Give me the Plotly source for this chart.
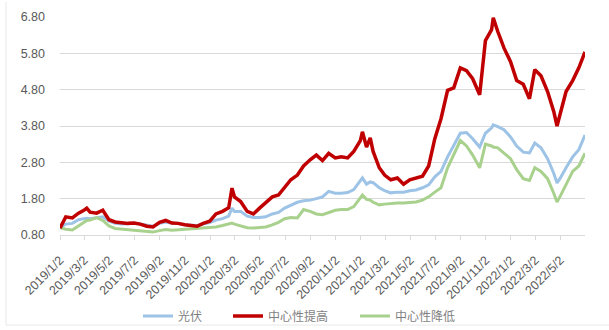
import plotly.graph_objects as go
from datetime import datetime

dates = [
    "2019-01-02", "2019-01-16", "2019-02-01", "2019-02-16", "2019-03-01", "2019-03-08", "2019-03-16",
    "2019-04-01", "2019-04-16", "2019-05-01", "2019-05-16", "2019-06-01", "2019-06-16",
    "2019-07-01", "2019-07-16", "2019-08-01", "2019-08-16", "2019-09-01", "2019-09-16",
    "2019-10-01", "2019-10-16", "2019-11-01", "2019-11-16", "2019-12-01", "2019-12-16",
    "2020-01-01", "2020-01-16", "2020-02-01", "2020-02-16", "2020-02-24", "2020-03-01", "2020-03-16",
    "2020-04-01", "2020-04-16", "2020-05-01", "2020-05-16", "2020-06-01", "2020-06-16",
    "2020-07-01", "2020-07-16", "2020-08-01", "2020-08-16", "2020-09-01", "2020-09-16",
    "2020-10-01", "2020-10-16", "2020-11-01", "2020-11-16", "2020-12-01", "2020-12-16",
    "2021-01-01", "2021-01-06", "2021-01-16", "2021-01-25", "2021-02-01", "2021-02-16",
    "2021-03-01", "2021-03-16", "2021-04-01", "2021-04-16", "2021-05-01", "2021-05-16",
    "2021-06-01", "2021-06-16", "2021-07-01", "2021-07-16", "2021-08-01", "2021-08-16",
    "2021-09-01", "2021-09-16", "2021-10-01", "2021-10-18", "2021-11-01", "2021-11-16",
    "2021-11-20", "2021-12-01", "2021-12-16", "2022-01-01", "2022-01-16", "2022-02-01",
    "2022-02-16", "2022-03-01", "2022-03-16", "2022-04-01", "2022-04-16", "2022-04-24",
    "2022-05-01", "2022-05-16", "2022-06-01", "2022-06-16", "2022-07-01",
]

guangfu = [
    1.00, 1.10, 1.12, 1.22, 1.25, 1.26, 1.25,
    1.28, 1.30, 1.18, 1.12, 1.10, 1.12,
    1.12, 1.10, 1.06, 1.04, 1.12, 1.16,
    1.12, 1.12, 1.08, 1.08, 1.06, 1.10,
    1.14, 1.21, 1.25, 1.32, 1.54, 1.45, 1.45,
    1.32, 1.28, 1.28, 1.30, 1.38, 1.42,
    1.54, 1.62, 1.70, 1.74, 1.76, 1.80,
    1.85, 2.00, 1.95, 1.95, 1.97, 2.05,
    2.28, 2.37, 2.20, 2.26, 2.24, 2.10,
    2.02, 1.96, 1.98, 1.98, 2.02, 2.04,
    2.10, 2.18, 2.40, 2.55, 2.95, 3.25,
    3.60, 3.62, 3.45, 3.22, 3.60, 3.75,
    3.83, 3.78, 3.70, 3.50, 3.25, 3.08,
    3.06, 3.33, 3.20, 2.90, 2.50, 2.23,
    2.35, 2.65, 2.95, 3.15, 3.55,
]

gaoti = [
    0.99, 1.30, 1.27, 1.40, 1.48, 1.54, 1.43,
    1.40, 1.48, 1.22, 1.16, 1.13, 1.12,
    1.13, 1.10, 1.04, 1.02, 1.15, 1.20,
    1.13, 1.12, 1.08, 1.06, 1.04, 1.12,
    1.18, 1.38, 1.45, 1.55, 2.09, 1.85, 1.72,
    1.45, 1.38, 1.54, 1.68, 1.85, 1.90,
    2.12, 2.32, 2.45, 2.70, 2.87, 3.00,
    2.85, 3.05, 2.92, 2.95, 2.92, 3.10,
    3.40, 3.64, 3.22, 3.47, 3.10, 2.65,
    2.45, 2.32, 2.37, 2.20, 2.32, 2.37,
    2.42, 2.70, 3.45, 4.00, 4.78, 4.85,
    5.40, 5.32, 5.10, 4.66, 6.15, 6.45,
    6.78, 6.40, 5.95, 5.57, 5.05, 4.95,
    4.55, 5.35, 5.18, 4.75, 4.20, 3.80,
    4.10, 4.75, 5.05, 5.40, 5.84,
]

jiangdi = [
    1.00, 0.96, 0.94, 1.05, 1.15, 1.20, 1.21,
    1.28, 1.20, 1.05, 0.98, 0.96, 0.94,
    0.93, 0.92, 0.90, 0.88, 0.92, 0.95,
    0.93, 0.94, 0.96, 0.96, 0.97, 0.99,
    1.00, 1.02, 1.06, 1.10, 1.13, 1.10, 1.05,
    1.00, 0.99, 1.00, 1.02, 1.08, 1.15,
    1.25, 1.28, 1.27, 1.50, 1.45, 1.38,
    1.36, 1.42, 1.48, 1.50, 1.50, 1.58,
    1.80, 1.90, 1.78, 1.76, 1.70, 1.63,
    1.65, 1.67, 1.68, 1.68, 1.70, 1.71,
    1.76, 1.85, 1.98, 2.10, 2.65, 3.00,
    3.40, 3.25, 3.00, 2.65, 3.30, 3.25,
    3.22, 3.20, 3.05, 2.90, 2.60, 2.35,
    2.30, 2.65, 2.55, 2.35, 1.95, 1.71,
    1.85, 2.20, 2.55, 2.70, 3.05,
]

series_names = ["光伏", "中心性提高", "中心性降低"]
series_colors = ["#9DC3E6", "#C00000", "#A9D18E"]
series_widths = [3, 3.5, 3]

tick_labels = [
    "2019/1/2", "2019/3/2", "2019/5/2", "2019/7/2", "2019/9/2", "2019/11/2",
    "2020/1/2", "2020/3/2", "2020/5/2", "2020/7/2", "2020/9/2", "2020/11/2",
    "2021/1/2", "2021/3/2", "2021/5/2", "2021/7/2", "2021/9/2", "2021/11/2",
    "2022/1/2", "2022/3/2", "2022/5/2",
]
y_ticks = [0.8, 1.8, 2.8, 3.8, 4.8, 5.8, 6.8]

tick_dates = [datetime.strptime(t, "%Y/%m/%d").strftime("%Y-%m-%d") for t in tick_labels]

# plot area in pixels: x 60..585, y 17..235
PL, PW, PB, PH = 60, 525, 235, 218
def px_x(p):
    return (p - PL) / PW
def px_y(p):
    return (PB - p) / PH

legend_ids = {"光伏": "legend", "中心性提高": "legend2", "中心性降低": "legend3"}
legend_left_px = {"legend": 138, "legend2": 228, "legend3": 355}

fig = go.Figure()
traces = {}
for name, vals, col, w in zip(series_names, [guangfu, gaoti, jiangdi], series_colors, series_widths):
    traces[name] = go.Scatter(x=dates, y=vals, mode="lines", name=name,
                              legend=legend_ids[name],
                              line=dict(color=col, width=w))
fig.add_trace(traces["光伏"])
fig.add_trace(traces["中心性降低"])
fig.add_trace(traces["中心性提高"])

leg_common = dict(orientation="h", xanchor="left", yanchor="middle", y=px_y(316),
                  itemwidth=30, bgcolor="rgba(0,0,0,0)",
                  font=dict(family="Noto Sans CJK SC", size=12, color="#7F7F7F"))
fig.update_layout(
    width=609, height=330,
    margin=dict(l=60, r=24, t=17, b=95, autoexpand=False),
    paper_bgcolor="white", plot_bgcolor="white",
    font=dict(family="Liberation Sans, Arial, sans-serif", color="#595959", size=13),
    legend=dict(x=px_x(legend_left_px["legend"]), **leg_common),
    legend2=dict(x=px_x(legend_left_px["legend2"]), **leg_common),
    legend3=dict(x=px_x(legend_left_px["legend3"]), **leg_common),
    showlegend=True,
    shapes=[
        dict(type="line", xref="paper", yref="paper",
             x0=px_x(6), x1=px_x(6), y0=px_y(2), y1=px_y(325),
             line=dict(color="#E8E8E8", width=1)),
        dict(type="line", xref="paper", yref="paper",
             x0=px_x(6), x1=px_x(609), y0=px_y(325), y1=px_y(325),
             line=dict(color="#E8E8E8", width=1)),
    ],
)
fig.update_xaxes(
    type="date", range=["2019-01-02", "2022-07-01"],
    tickmode="array", tickvals=tick_dates, ticktext=tick_labels, tickangle=-45,
    showgrid=False, showline=True, linecolor="#D9D9D9", linewidth=1,
    ticks="outside", ticklen=4, tickcolor="#D9D9D9", ticklabelstandoff=8,
    tickfont=dict(size=12.5, color="#595959"),
)
fig.update_yaxes(
    range=[0.8, 6.8], tickmode="array", tickvals=y_ticks,
    ticktext=[f"{v:.2f}" for v in y_ticks],
    showgrid=True, gridcolor="#D9D9D9", gridwidth=1, zeroline=False,
    ticks="", ticklabelstandoff=14,
    tickfont=dict(size=12.5, color="#595959"),
)

fig.write_html("out.html")
